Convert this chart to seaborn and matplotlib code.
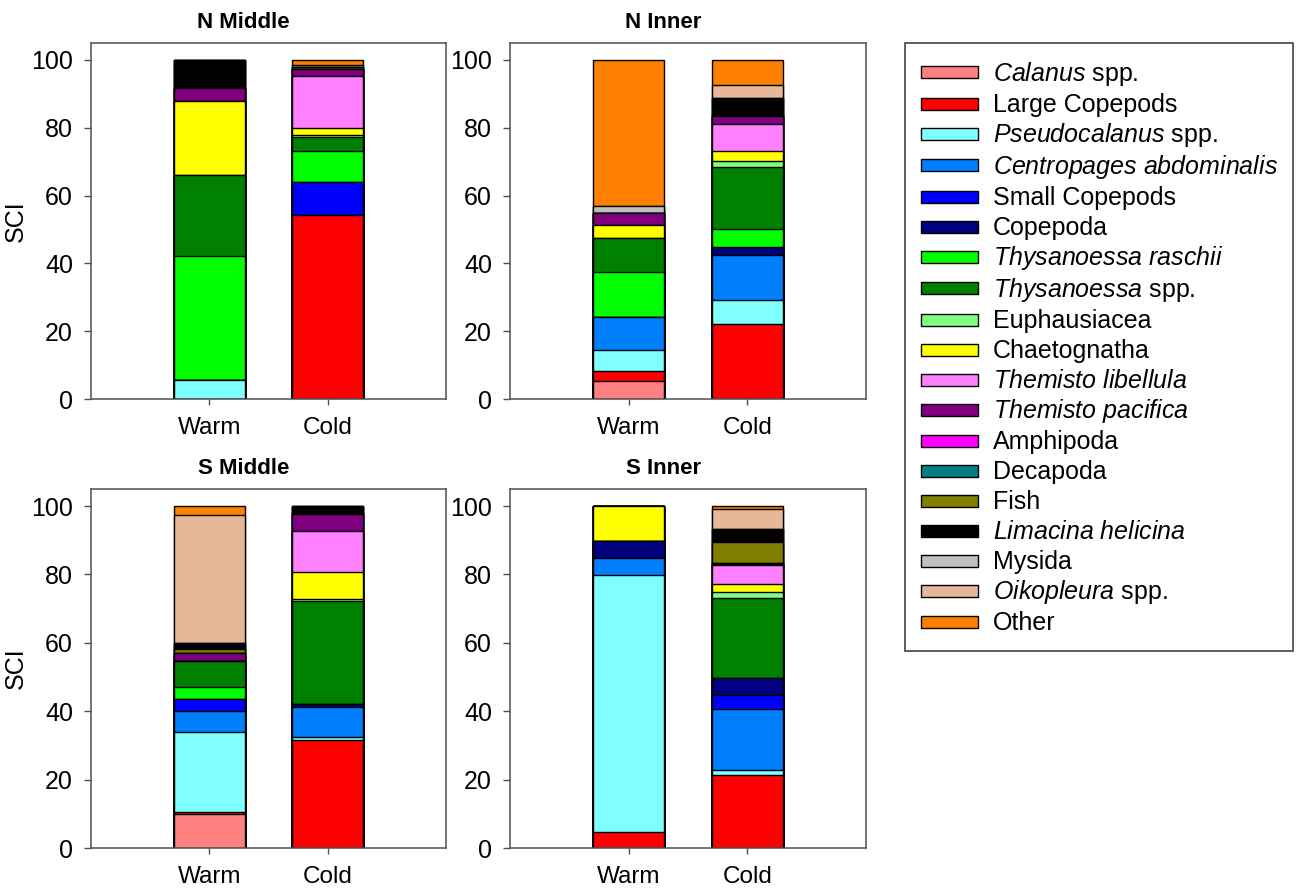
import numpy as np
import pandas as pd
import matplotlib
matplotlib.use("Agg")
import matplotlib.pyplot as plt
from matplotlib.patches import Patch, Rectangle
from matplotlib.legend_handler import HandlerPatch
import seaborn as sns

# ---------------- data ----------------
taxa = ["Calanus spp.", "Large Copepods", "Pseudocalanus spp.", "Centropages abdominalis",
        "Small Copepods", "Copepoda", "Thysanoessa raschii", "Thysanoessa spp.",
        "Euphausiacea", "Chaetognatha", "Themisto libellula", "Themisto pacifica",
        "Amphipoda", "Decapoda", "Fish", "Limacina helicina", "Mysida",
        "Oikopleura spp.", "Other"]

legend_labels = [r"$\mathit{Calanus}$ spp.", "Large Copepods", r"$\mathit{Pseudocalanus}$ spp.",
                 r"$\mathit{Centropages\ abdominalis}$", "Small Copepods", "Copepoda",
                 r"$\mathit{Thysanoessa\ raschii}$", r"$\mathit{Thysanoessa}$ spp.",
                 "Euphausiacea", "Chaetognatha", r"$\mathit{Themisto\ libellula}$",
                 r"$\mathit{Themisto\ pacifica}$", "Amphipoda", "Decapoda", "Fish",
                 r"$\mathit{Limacina\ helicina}$", "Mysida", r"$\mathit{Oikopleura}$ spp.", "Other"]

colors = ["#FF8080", "#FF0000", "#80FFFF", "#0080FF", "#0000FF", "#000080",
          "#00FF00", "#008000", "#80FF80", "#FFFF00", "#FF80FF", "#800080",
          "#FF00FF", "#008080", "#808000", "#000000", "#C0C0C0", "#E6B798", "#FF8000"]

seasons = ["Warm", "Cold"]
panels = ["N Middle", "N Inner", "S Middle", "S Inner"]

#                 Cal  LgC   Pse   Cen   SmC  Cop  Tra   Tsp   Eup  Cha   Tli   Tpa  Amp  Dec  Fis  Lim  Mys  Oik   Oth
n_middle_warm = [0.0, 0.0,  5.5,  0.0,  0.0, 0.0, 36.8, 23.8, 0.0, 21.8, 0.0,  3.9, 0.0, 0.0, 0.0, 8.2, 0.0, 0.0,  0.0]
n_middle_cold = [0.0, 54.3, 0.0,  0.0,  9.7, 0.0, 9.1,  4.1,  0.7, 1.9,  15.4, 2.2, 0.0, 0.0, 0.5, 0.0, 0.0, 0.7,  1.4]
n_inner_warm  = [5.2, 3.2,  6.1,  9.6,  0.0, 0.0, 13.4, 10.0, 0.0, 3.7,  0.0,  3.7, 0.0, 0.0, 0.0, 0.0, 1.9, 0.0,  43.2]
n_inner_cold  = [0.0, 22.0, 7.1,  13.4, 0.0, 2.3, 5.2,  18.5, 1.8, 2.9,  8.0,  2.2, 0.4, 0.0, 0.0, 5.0, 0.0, 3.9,  7.3]
s_middle_warm = [9.9, 0.7,  23.4, 6.1,  3.4, 0.0, 3.6,  7.6,  0.0, 0.0,  0.0,  2.4, 0.0, 0.0, 1.1, 1.8, 0.0, 37.3, 2.7]
s_middle_cold = [0.0, 31.7, 0.7,  8.7,  0.0, 1.0, 0.0,  30.2, 0.6, 7.9,  11.8, 5.2, 0.0, 0.0, 0.0, 1.8, 0.4, 0.0,  0.0]
s_inner_warm  = [0.0, 4.8,  75.0, 4.9,  0.0, 5.2, 0.0,  0.0,  0.0, 10.1, 0.0,  0.0, 0.0, 0.0, 0.0, 0.0, 0.0, 0.0,  0.0]
s_inner_cold  = [0.0, 21.4, 1.4,  17.9, 4.1, 5.0, 0.0,  23.2, 1.8, 2.3,  5.6,  0.4, 0.4, 0.0, 5.9, 4.0, 0.0, 5.8,  0.8]

panel_values = {
    "N Middle": {"Warm": n_middle_warm, "Cold": n_middle_cold},
    "N Inner": {"Warm": n_inner_warm, "Cold": n_inner_cold},
    "S Middle": {"Warm": s_middle_warm, "Cold": s_middle_cold},
    "S Inner": {"Warm": s_inner_warm, "Cold": s_inner_cold},
}

rows = []
for p in panels:
    for s in seasons:
        for t, v in zip(taxa, panel_values[p][s]):
            rows.append({"panel": p, "season": s, "taxon": t, "value": v})
df = pd.DataFrame(rows)
df["cum"] = df.groupby(["panel", "season"])["value"].cumsum()

# ---------------- style ----------------
sns.set_theme(style="ticks")
plt.rcParams["font.family"] = ["Liberation Sans", "DejaVu Sans"]
plt.rcParams["mathtext.fontset"] = "custom"
plt.rcParams["mathtext.rm"] = "Liberation Sans"
plt.rcParams["mathtext.it"] = "Liberation Sans:italic"
plt.rcParams["axes.edgecolor"] = "#505050"
plt.rcParams["axes.linewidth"] = 1.1
plt.rcParams["text.color"] = "black"

FS = 18

fig = plt.figure(figsize=(12.96, 8.91), dpi=100)

W, H = 1296, 891
def frac(l, t, r, b):
    return [l / W, 1 - b / H, (r - l) / W, (b - t) / H]

positions = {
    "N Middle": frac(91, 43, 446, 399),
    "N Inner": frac(510, 43, 866, 399),
    "S Middle": frac(91, 489, 446, 848),
    "S Inner": frac(510, 489, 866, 848),
}

for p in panels:
    ax = fig.add_axes(positions[p])
    d = df[df["panel"] == p]
    for t, c in reversed(list(zip(taxa, colors))):
        sub = d[d["taxon"] == t]
        sns.barplot(data=sub, x="season", y="cum", order=seasons, color=c,
                    saturation=1, edgecolor="black", linewidth=1.0, width=0.6,
                    errorbar=None, ax=ax)
    ax.set_xlim(-1, 2)
    ax.set_ylim(0, 105)
    ax.set_yticks([0, 20, 40, 60, 80, 100])
    ax.set_xlabel("")
    ax.set_ylabel("SCI" if p in ("N Middle", "S Middle") else "", fontsize=FS,
                  labelpad=2, color="black")
    ax.set_title(p, fontsize=16, fontweight="bold", pad=11, color="black", x=0.43)
    ax.tick_params(axis="y", length=5, width=1, pad=8, labelsize=FS, color="#505050",
                   labelcolor="black")
    ax.tick_params(axis="x", length=4, width=1, pad=9, labelsize=17.5, color="#505050",
                   labelcolor="black")
    for sp in ax.spines.values():
        sp.set_visible(True)


def make_rect(legend, orig_handle, xdescent, ydescent, width, height, fontsize):
    h = 0.48 * fontsize
    return Rectangle((-xdescent, -ydescent + (height - h) / 2), width, h)


handles = [Patch(facecolor=c, edgecolor="black", linewidth=1.0) for c in colors]
leg = fig.legend(handles, legend_labels, loc="upper left",
                 bbox_to_anchor=(905 / W, 1 - 43 / H), frameon=True, fancybox=False,
                 edgecolor="#505050", framealpha=1, fontsize=FS, handlelength=2.28,
                 handleheight=1.3, labelspacing=0.105, borderpad=0.62,
                 handletextpad=0.6, borderaxespad=0,
                 handler_map={Patch: HandlerPatch(patch_func=make_rect)})
leg.get_frame().set_linewidth(1.3)

fig.savefig("out.png", dpi=100)
